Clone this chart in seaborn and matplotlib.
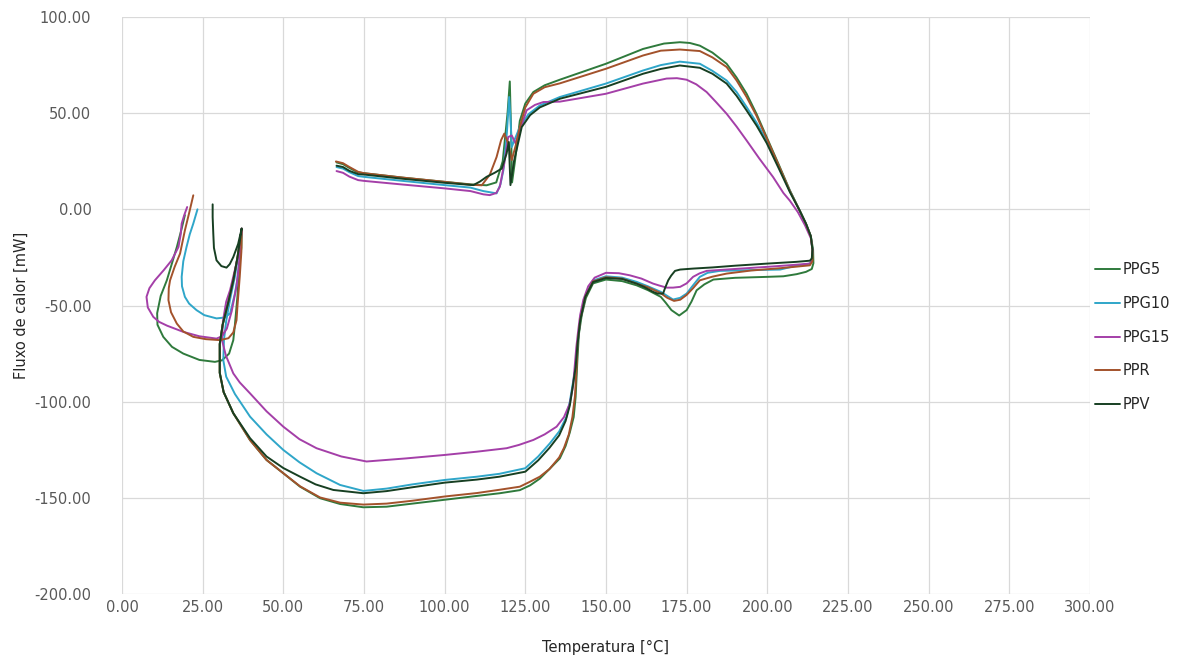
import matplotlib
matplotlib.use("Agg")
import matplotlib.pyplot as plt
import pandas as pd
import seaborn as sns
from matplotlib.ticker import FormatStrFormatter

# DSC curves: (temperature °C, heat flow mW), in plotting order
ppg5_temp = [66.5, 68.5, 70.5, 73, 75, 87, 100, 108, 113, 116, 118, 119.5, 120.2, 120.6, 120.9, 121.8,
             123.3, 125, 127.5, 131, 135.7, 150, 161.5, 168, 172.9, 176, 179.1, 183, 187.4, 190.5, 193.6,
             196.7, 199.8, 203.5, 207, 210, 212, 213.5, 214.2, 214.3, 213.8, 212, 209.1, 205, 200, 190,
             183.3, 180.5, 178.1, 176.5, 175, 172.7, 170.3, 168.5, 167, 163, 159.5, 155, 150, 146, 143.8,
             142.5, 141.6, 141.1, 140.6, 140, 138.8, 137.5, 135.7, 132.5, 129.5, 126.5, 123.3, 117.1, 110,
             100, 90, 82, 74.8, 67.6, 61.4, 55.2, 50, 44.8, 39.7, 34.5, 31.5, 30.3, 30.3, 31.2, 33, 34.5,
             35.8, 37.1, 37, 36.3, 35.8, 35, 34.5, 33.2, 31, 28.8, 24, 19, 15.5, 12.8, 11, 10.9, 12, 13.9,
             15.5, 17, 18.5, 19.5]
ppg5_flux = [24.4, 23.5, 21.5, 19.3, 18.8, 16.5, 14.3, 13, 12.5, 14, 25, 50, 66.5, 40, 14, 25,
             46, 55, 61, 64.5, 67.4, 75.7, 83.4, 86.2, 86.9, 86.5, 85.1, 81.5, 75.7, 68.5, 60.1,
             49.5, 37.6, 23.5, 9.9, -0.5, -7.5, -14, -21, -28, -31, -32.5, -33.7, -34.8, -35.1, -35.6,
             -36.5, -39, -42.1, -48, -52.4, -55.2, -52.4, -48.5, -45.5, -42, -39.5, -37.3, -36.5, -38.5, -46,
             -55, -65, -80, -97.5, -108, -116, -123, -129.5, -135, -140, -143.5, -146, -147.6, -149,
             -151, -153, -154.6, -154.9, -153.2, -150.2, -144.2, -137.2, -130.3, -120, -106, -95, -85, -70, -60, -48, -37,
             -25, -10, -20, -30, -45, -60, -68, -75, -78.5, -79.3, -78.3, -75, -71.5, -66.3, -60, -54, -45, -36.9,
             -28, -19.6, -10, -3]

ppg10_temp = [66.5, 68.5, 70.5, 73.2, 75, 87, 100, 108, 112, 116.1, 117.3, 118.2, 119.3, 120, 120.4, 120.8,
              122, 123.3, 126, 129.5, 135.7, 150, 161.5, 167, 172.9, 179.1, 183, 187.4, 190.5, 193.6, 196.7,
              199.8, 203.5, 207, 210, 212, 213.5, 214, 213.8, 213.2, 209, 204, 195, 185.3, 181.5, 179.1, 177,
              175, 173, 170.8, 169, 167, 163, 159.5, 155, 150, 146, 143.6, 142, 141.2, 140.6, 139.9, 138.8,
              137.8, 135.5, 132.6, 129, 125, 117, 110, 100, 90, 82, 74.8, 67.6, 60.3, 55, 50, 44.8, 39.7,
              35, 32.3, 31.4, 31.6, 32.3, 33.6, 35, 36.2, 37.1, 36.6, 35.8, 35, 33.5, 31.5, 29.3, 25.5, 23.1,
              20.8, 19.5, 18.6, 18.5, 19, 20, 21, 22.1, 23.4]
ppg10_flux = [22.0, 21.2, 19.3, 17.3, 16.9, 14.8, 12.6, 11.3, 9.5, 8.3, 13, 20.2, 40, 58.4, 48, 32.4,
              37.5, 42.8, 49.5, 54, 58.4, 65.4, 72.2, 75, 76.8, 75.7, 72, 67, 61, 53.2, 45,
              35.8, 22.5, 9.5, -0.5, -7.5, -14, -21, -27, -28.2, -29.3, -31.3, -31.6, -32, -33, -35.1, -39.5,
              -43.8, -46, -46.9, -45, -42.9, -40, -37.7, -35.5, -34.8, -37, -45, -58, -70, -82, -88.8, -100,
              -107.8, -115.5, -121.7, -128.5, -134.6, -137.5, -139, -140.7, -143, -145.2, -146.4, -143.3, -137.2, -131.5, -125.1, -117, -107.8,
              -96, -87, -78.4, -68, -58, -46, -35, -22, -10, -25, -36, -43.8, -54.2, -56.3, -56.7, -55, -52.4,
              -49, -45.5, -40, -35.1, -27, -19.6, -13, -7.4, 0]

ppg15_temp = [66.5, 68.5, 70.5, 73.2, 75, 87, 100, 108, 112, 114, 116, 117.1, 118.5, 119.7, 120.8, 122,
              123.5, 125.4, 128, 130.6, 135.7, 150, 161.5, 168.8, 172, 175, 178, 181.2, 184, 187.4, 190.5,
              193.6, 197.5, 201.8, 205, 207, 209.5, 211.7, 213.5, 214, 213.8, 213.2, 209, 200, 190, 181.2,
              179, 177, 175, 173, 170.8, 168.8, 166.5, 164.6, 161, 157.4, 154, 150, 146.5, 144.5, 143, 142,
              141.4, 140.8, 140.4, 139.8, 138.8, 137, 134.7, 131, 127.5, 123, 119.2, 110, 100, 88, 75.8, 68,
              60.3, 55, 50, 44.8, 39.7, 36.5, 34.5, 32.2, 31, 31.3, 32.3, 33.5, 35.2, 36.6, 37.1, 36.5, 35.5,
              34, 32.5, 31, 29.3, 24, 19, 14, 11.5, 9.7, 8, 7.6, 8.5, 10.2, 13, 15.4, 17.5, 18.2, 18.5,
              19.3, 20.2]
ppg15_flux = [19.9, 19, 17, 15.2, 14.8, 12.9, 10.9, 9.5, 7.8, 7.4, 8.5, 11.7, 24, 37.6, 38.4, 34.3,
              42, 51.5, 54.3, 55.8, 56, 60.1, 65.4, 68, 68.2, 67.4, 65, 61, 56, 49.7, 43,
              35.8, 26.5, 16.8, 8.5, 4.5, -1.5, -8.3, -15, -21, -26.5, -28.2, -28.8, -29.9, -31, -32,
              -33.3, -35.1, -38.5, -40.3, -40.7, -40.7, -39.6, -38.6, -36, -34.3, -33.2, -33, -35.5, -40, -47, -55,
              -63, -72, -80, -92, -100.9, -108, -113, -117, -119.9, -122.5, -124.2, -126, -127.7, -129.5, -131.1, -128.5,
              -124.2, -119.5, -113, -105, -95.7, -90, -85.3, -76, -68, -58, -48, -42, -30, -19.6, -10, -25, -40,
              -53, -62, -66, -67.2, -66, -63.7, -60.5, -58.5, -55.9, -51, -45.5, -41, -36.9, -31.5, -26.5, -19.6, -13, -7.4,
              -3, 1.2]

ppr_temp = [66.3, 68.5, 70.5, 73.2, 75, 87, 100, 108, 111.5, 114, 116.1, 117.5, 118.5, 119.7, 120.8, 122,
            123.3, 125, 127.5, 131, 135.7, 150, 161.5, 167, 172.9, 179.1, 183, 187.4, 190.5, 193.6, 196.7,
            199.8, 203.5, 207, 210, 212, 213.5, 214, 214, 213.2, 209, 204, 195, 187.4, 183, 179.1, 177, 175,
            173, 171.1, 169, 167, 163, 159.5, 155, 150, 146, 143.6, 142, 141.2, 140.8, 140.4, 139.6, 138.5,
            137, 135.5, 132.5, 129.5, 126, 123.3, 117, 110, 100, 90, 82, 74.8, 67.6, 61.4, 55.2, 50, 44.8,
            39.7, 34.5, 31.5, 30.3, 30.3, 31.2, 33, 34.5, 35.8, 37.1, 37, 36.5, 35.8, 35.5, 34.5, 33, 30.4,
            26, 22.1, 19, 17, 15.2, 14.4, 14.5, 14.9, 16.3, 18, 19.5, 20.8, 22.1]
ppr_flux = [24.9, 24, 22, 19.5, 18.8, 16.5, 14.3, 12.8, 12.5, 18, 27.2, 36, 39.4, 34.3, 25.6, 33,
            42.8, 53, 60.1, 63.5, 65.5, 73.1, 80, 82.5, 83.1, 82.3, 79, 74, 67, 58.4, 48.5,
            37, 23, 9.5, -0.5, -7.5, -14, -21, -27, -29.1, -29.8, -30.6, -31.8, -33.4, -35, -36.9, -41, -44.5,
            -47, -47.6, -46, -43.6, -40.5, -38.6, -36, -35.3, -37.5, -45.5, -58, -70, -85, -97, -108, -117,
            -124, -129, -135, -139, -142, -144.2, -145.8, -147.5, -149.3, -151.5, -153, -153.5, -152.5, -149.8, -144, -137.2, -130.3,
            -120, -106, -95, -85, -70, -60, -48, -37, -25, -10, -22, -35, -50, -57.6, -64, -67, -68,
            -67.5, -66.3, -63.5, -59.4, -53.5, -47.2, -41, -36.9, -30, -23, -10.9, -2, 7.3]

ppv_temp = [66.5, 68.5, 70.5, 73.2, 75, 87, 100, 108.9, 111, 113, 115.5, 117.7, 119.2, 119.9, 120.4, 121.5,
            123.9, 126.5, 129.5, 135.7, 150, 161.5, 167, 172.9, 179.1, 183, 187.4, 190.5, 193.6, 196.7, 199.8,
            203.5, 207, 210, 212, 213.5, 214, 213.8, 213.2, 209, 200, 190, 183, 177, 173, 171.4, 170.2, 169.3,
            168.3, 167.7, 166, 164.6, 162, 159.5, 155, 150, 146, 143.6, 142, 141.2, 140.6, 139.9, 138.8, 137.5,
            135.5, 132.5, 129, 125, 117, 110, 100, 90, 82, 74.8, 65.5, 60, 55.2, 50, 44.8, 39.7, 34.5, 31.5,
            30.3, 30.3, 31.2, 33, 34.5, 35.8, 37.1, 36, 34.5, 33.4, 32.4, 30.8, 29.3, 28.5, 28.3, 28.1, 28.1]
ppv_flux = [22.7, 22, 20, 18.3, 18.1, 15.9, 13.8, 12.6, 14.5, 16.9, 19, 21.2, 29, 35, 12.6, 25,
            42.8, 49, 53, 57.5, 63.7, 70.5, 73, 74.8, 73.6, 70.5, 65.4, 59, 51.4, 43.5, 34.5,
            21.5, 9, -0.5, -7.5, -14, -21, -25.5, -26.7, -27.3, -28.2, -29.3, -30.2, -30.8, -31.3, -32, -34.5, -36.9,
            -41, -43.8, -43.8, -42.9, -40.5, -38.6, -36.2, -35.7, -37.8, -45.5, -58, -70, -82, -90, -102, -110,
            -117.5, -124, -130.5, -136.4, -139, -140.5, -142.1, -144.5, -146.5, -147.6, -145.9, -143, -139, -134.5, -128.5, -119, -106, -95,
            -85, -70, -60, -48, -37, -25, -10, -18, -24.8, -28.5, -30.3, -29.5, -26.5, -20, -12.6, -4, 2.6]

samples = ["PPG5", "PPG10", "PPG15", "PPR", "PPV"]
colors = ["#2f7a3c", "#2fa6c9", "#a43fa8", "#a3522b", "#173f22"]

frames = []
for name, t, f in [("PPG5", ppg5_temp, ppg5_flux), ("PPG10", ppg10_temp, ppg10_flux),
                   ("PPG15", ppg15_temp, ppg15_flux), ("PPR", ppr_temp, ppr_flux),
                   ("PPV", ppv_temp, ppv_flux)]:
    frames.append(pd.DataFrame({"Temperatura": t, "Fluxo": f, "Amostra": name}))
df = pd.concat(frames, ignore_index=True)

sns.set_theme(style="whitegrid")
plt.rcParams["font.family"] = ["DejaVu Sans"]
plt.rcParams["axes.unicode_minus"] = False

fig = plt.figure(figsize=(12.03, 6.62), dpi=100)
ax = fig.add_axes([0.1014, 0.1027, 0.8046, 0.8716])

sns.lineplot(data=df, x="Temperatura", y="Fluxo", hue="Amostra", hue_order=samples,
             palette=dict(zip(samples, colors)), sort=False, estimator=None,
             linewidth=1.4, ax=ax)

ax.set_xlim(0, 300)
ax.set_ylim(-200, 100)
ax.set_xticks(range(0, 301, 25))
ax.set_yticks(range(-200, 101, 50))
ax.xaxis.set_major_formatter(FormatStrFormatter("%.2f"))
ax.yaxis.set_major_formatter(FormatStrFormatter("%.2f"))
ax.tick_params(axis="both", labelsize=10.5, labelcolor="#595959", length=0)
ax.tick_params(axis="y", pad=22)
ax.tick_params(axis="x", pad=4)
ax.grid(True, color="#d9d9d9", linewidth=0.9)
for s in ax.spines.values():
    s.set_visible(False)

ax.set_xlabel("Temperatura [°C]", fontsize=10.5, color="#262626", labelpad=18)
ax.set_ylabel("Fluxo de calor [mW]", fontsize=10.5, color="#262626", labelpad=4)

ax.legend(loc="center left", bbox_to_anchor=(0.992, 0.445), frameon=False,
          fontsize=10.5, handlelength=1.7, handletextpad=0.2, labelspacing=1.28,
          title=None)

fig.savefig("out.png", dpi=100)
